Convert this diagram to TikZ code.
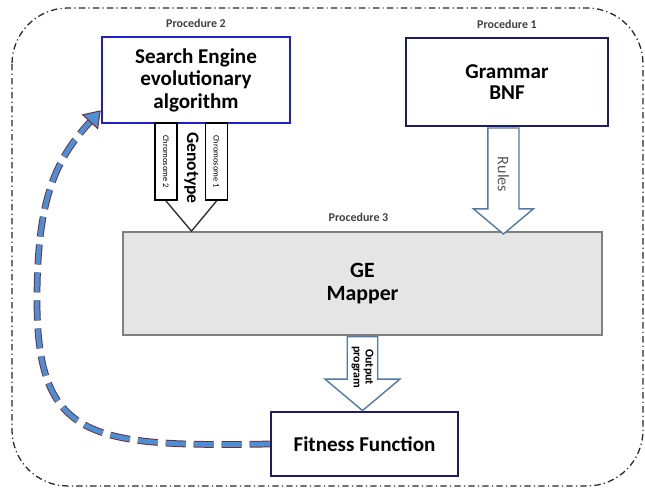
\documentclass[tikz,border=0pt]{standalone}
\usepackage{fontspec}
\setmainfont{Carlito}
\usetikzlibrary{arrows.meta, positioning, shapes.arrows, calc}
\definecolor{engineblue}{RGB}{30,30,205}
\definecolor{navyedge}{RGB}{28,28,105}
\definecolor{arrowblue}{RGB}{82,122,165}
\definecolor{loopfill}{RGB}{74,144,216}
\definecolor{loopedge}{RGB}{120,45,45}
\tikzset{
  box/.style     ={rectangle, draw=navyedge, line width=1.8pt, fill=white,
                   align=center, font=\fontsize{15}{14.5}\selectfont\bfseries},
  proc/.style    ={font=\fontsize{8.5}{10}\selectfont\bfseries, text=black!75,
                   inner sep=1pt},
  chrom/.style   ={rectangle, draw=black, line width=1.4pt, fill=white, rotate=-90,
                   minimum width=1.925cm, minimum height=0.55cm, inner sep=0pt,
                   font=\fontsize{6}{6.5}\selectfont},
  blkarr/.style  ={single arrow, draw=arrowblue, line width=1pt, fill=white,
                   rotate=-90, single arrow tip angle=100, inner sep=1pt,
                   anchor=tail, align=center},
  feedback/.style={draw=loopedge, line width=0.7pt, double=loopfill,
                   double distance=3.4pt, dash pattern=on 0.5cm off 0.2cm,
                   -{Triangle[length=0.4cm, width=0.55cm, fill=loopfill]}},
  frame/.style   ={draw=black!85, line width=0.9pt, rounded corners=1.4cm,
                   dash pattern=on 0.16cm off 0.08cm on 0.03cm off 0.08cm}
}
\begin{document}
\begin{tikzpicture}[x=0.025cm, y=-0.025cm, node distance=0.15cm]
  \useasboundingbox (0,0) rectangle (645,488);
  \draw[frame] (12,8) rectangle (643,486);

  \node[box, draw=engineblue, minimum width=4.7cm, minimum height=2.15cm,
        font=\fontsize{15}{16}\selectfont\bfseries] (search) at (196,80)
        {Search Engine\\evolutionary\\algorithm};
  \node[box, minimum width=5.05cm, minimum height=2.2cm] (grammar) at (507,82)
        {Grammar\\BNF};
  \node[box, draw=black!50, line width=1.2pt, fill=black!10,
        minimum width=11.975cm, minimum height=2.575cm,
        font=\fontsize{15.5}{16}\selectfont\bfseries] (mapper) at (362.5,283.5)
        {GE\\Mapper};
  \node[box, minimum width=4.675cm, minimum height=1.6cm] (fitness) at (364.5,444)
        {Fitness Function};

  \node[proc, above=of search] {Procedure 2};
  \node[proc, above=of grammar] {Procedure 1};
  \node[proc, above=0.2cm of mapper, xshift=-0.1cm] {Procedure 3};

  % genotype: two chromosomes leaving the search engine
  \node[chrom] (chr2) at (166,161.5) {Chromosome 2};
  \node[chrom] (chr1) at (216.5,161.5) {Chromosome 1};
  \node[rotate=-90, font=\fontsize{12.5}{15}\selectfont\bfseries] (geno) at (191.5,168) {Genotype};
  \draw[line width=1pt, black!80] (chr2.east) -- (geno |- mapper.north) -- (chr1.east);

  \node[blkarr, minimum height=2.65cm, minimum width=1.5cm, inner ysep=6.5pt,
        single arrow head extend=0.36cm, text=black!65,
        font=\fontsize{11.5}{12}\selectfont] (rules) at ([xshift=-0.09cm]grammar.south) {Rules};
  \node[blkarr, minimum height=1.85cm, minimum width=1.875cm,
        single arrow head extend=0.475cm,
        font=\fontsize{8.5}{8.5}\selectfont\bfseries] (outprog) at (mapper.south) {Output\\program};

  \draw[feedback] (fitness.west) .. controls (90,447) and (37,440) .. (37,300)
        .. controls (37,200) and (55,160) .. ($(search.south west)+(0,-14)$);
\end{tikzpicture}
\end{document}
